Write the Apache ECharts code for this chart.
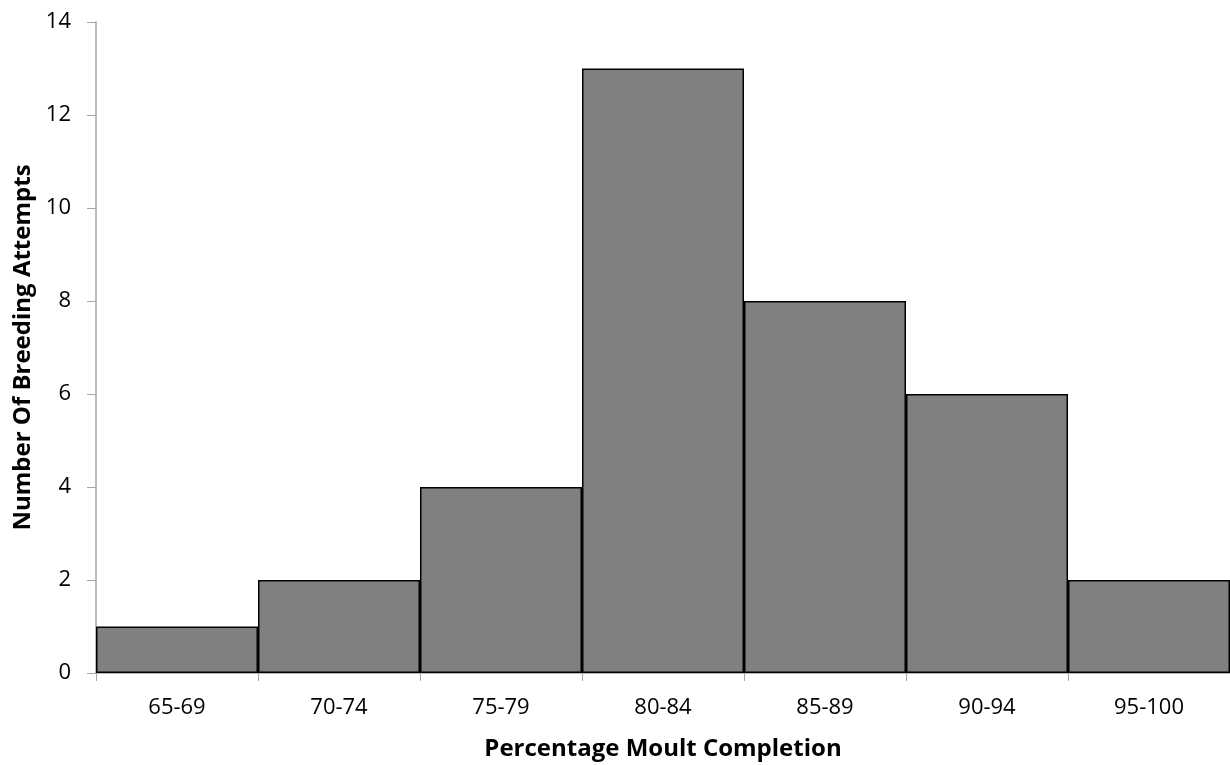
<!DOCTYPE html>
<html>
<head>
<meta charset="utf-8">
<script src="https://cdn.jsdelivr.net/npm/echarts@6/dist/echarts.min.js"></script>
<style>
  html, body { margin: 0; padding: 0; background: #fff; }
  #chart { width: 1230px; height: 765px; }
</style>
</head>
<body>
<div id="chart"></div>
<script>
// Moult completion classes and the breeding attempts in each
const categories = ['65-69', '70-74', '75-79', '80-84', '85-89', '90-94', '95-100'];
const attempts = [1, 2, 4, 13, 8, 6, 2];
const yTicks = { min: 0, max: 14, step: 2 };

const font = '"Open Sans", "Noto Sans", sans-serif';
const chart = echarts.init(document.getElementById('chart'));
chart.setOption({
  animation: false,
  backgroundColor: '#ffffff',
  grid: {
    left: 96, right: 0, top: 22, bottom: 92,
    containLabel: false,
    outerBoundsMode: 'none'
  },
  xAxis: {
    type: 'category',
    data: categories,
    name: 'Percentage Moult Completion',
    nameLocation: 'middle',
    nameGap: 64,
    nameTextStyle: { fontFamily: font, fontWeight: 'bold', fontSize: 24, color: '#000' },
    axisLine: { lineStyle: { color: '#a6a6a6', width: 1.5 } },
    axisTick: { show: true, length: 8, alignWithLabel: false, lineStyle: { color: '#a6a6a6' } },
    axisLabel: { fontFamily: font, fontSize: 22, color: '#000', margin: 24 }
  },
  yAxis: {
    type: 'value',
    min: yTicks.min,
    max: yTicks.max,
    interval: yTicks.step,
    name: 'Number Of Breeding Attempts',
    nameLocation: 'middle',
    nameGap: 60,
    nameTextStyle: { fontFamily: font, fontWeight: 'bold', fontSize: 24, color: '#000' },
    axisLine: { show: true, lineStyle: { color: '#a6a6a6', width: 1.5 } },
    axisTick: { show: true, length: 9, inside: false, lineStyle: { color: '#a6a6a6' } },
    splitLine: { show: false },
    axisLabel: { fontFamily: font, fontSize: 22, color: '#000', margin: 25 }
  },
  series: [{
    type: 'bar',
    data: attempts,
    barCategoryGap: '0%',
    itemStyle: { color: '#808080', borderColor: '#000', borderWidth: 1.5 }
  }]
});
</script>
</body>
</html>
